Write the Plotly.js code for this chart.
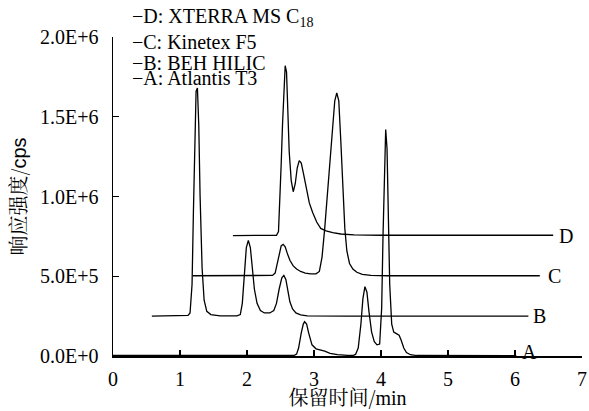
<!DOCTYPE html>
<html>
<head>
<meta charset="utf-8">
<script src="https://cdn.plot.ly/plotly-3.0.1.min.js"></script>
<style>html,body{margin:0;padding:0;background:#fff;}#chart{width:589px;height:411px;}</style>
</head>
<body>
<div id="chart"></div>
<script>
// Retention time (min) and response (cps) for each column
const timeA = [0, 1.0, 2.0, 2.70, 2.74, 2.77, 2.81, 2.84, 2.86, 2.89, 2.92, 2.97, 3.03, 3.09, 3.16, 3.24, 3.35, 3.50, 3.58, 3.62, 3.66, 3.70, 3.73, 3.76, 3.79, 3.82, 3.86, 3.90, 3.94, 3.98, 4.01, 4.03, 4.05, 4.07, 4.09, 4.11, 4.13, 4.16, 4.19, 4.23, 4.27, 4.30, 4.34, 4.38, 4.44, 4.53, 5.0, 6.02];
const signalA = [0.004e6, 0.003e6, 0.003e6, 0.003e6, 0.012e6, 0.05e6, 0.145e6, 0.20e6, 0.215e6, 0.20e6, 0.145e6, 0.07e6, 0.045e6, 0.04e6, 0.03e6, 0.017e6, 0.008e6, 0.004e6, 0.003e6, 0.01e6, 0.05e6, 0.20e6, 0.36e6, 0.435e6, 0.40e6, 0.28e6, 0.15e6, 0.09e6, 0.07e6, 0.075e6, 0.30e6, 0.75e6, 1.20e6, 1.42e6, 1.30e6, 0.85e6, 0.45e6, 0.20e6, 0.15e6, 0.14e6, 0.13e6, 0.10e6, 0.05e6, 0.022e6, 0.008e6, 0.003e6, 0.002e6, 0.002e6];

const timeB = [0.58, 1.0, 1.12, 1.15, 1.18, 1.20, 1.22, 1.24, 1.26, 1.28, 1.30, 1.33, 1.36, 1.40, 1.46, 1.60, 1.85, 1.90, 1.93, 1.96, 1.99, 2.02, 2.05, 2.08, 2.11, 2.15, 2.20, 2.26, 2.34, 2.40, 2.44, 2.48, 2.52, 2.55, 2.58, 2.61, 2.64, 2.68, 2.73, 2.80, 2.90, 3.5, 6.2];
const signalB = [0.25e6, 0.252e6, 0.255e6, 0.27e6, 0.45e6, 0.90e6, 1.40e6, 1.66e6, 1.68e6, 1.45e6, 1.00e6, 0.55e6, 0.35e6, 0.28e6, 0.26e6, 0.252e6, 0.252e6, 0.26e6, 0.33e6, 0.52e6, 0.68e6, 0.725e6, 0.68e6, 0.55e6, 0.42e6, 0.33e6, 0.285e6, 0.27e6, 0.27e6, 0.285e6, 0.33e6, 0.42e6, 0.49e6, 0.505e6, 0.48e6, 0.41e6, 0.34e6, 0.295e6, 0.27e6, 0.258e6, 0.252e6, 0.25e6, 0.25e6];

const timeC = [1.19, 2.0, 2.38, 2.42, 2.45, 2.48, 2.51, 2.54, 2.57, 2.60, 2.64, 2.69, 2.74, 2.80, 2.87, 2.95, 3.03, 3.08, 3.12, 3.16, 3.20, 3.24, 3.28, 3.31, 3.34, 3.37, 3.40, 3.43, 3.46, 3.49, 3.53, 3.58, 3.64, 3.72, 3.85, 4.1, 6.37];
const signalC = [0.503e6, 0.503e6, 0.505e6, 0.52e6, 0.58e6, 0.65e6, 0.69e6, 0.70e6, 0.685e6, 0.645e6, 0.60e6, 0.565e6, 0.545e6, 0.53e6, 0.52e6, 0.515e6, 0.515e6, 0.53e6, 0.62e6, 0.80e6, 1.00e6, 1.22e6, 1.45e6, 1.60e6, 1.65e6, 1.60e6, 1.35e6, 1.05e6, 0.80e6, 0.66e6, 0.58e6, 0.545e6, 0.525e6, 0.512e6, 0.506e6, 0.503e6, 0.503e6];

const timeD = [1.79, 2.3, 2.44, 2.47, 2.49, 2.51, 2.53, 2.55, 2.57, 2.59, 2.61, 2.63, 2.66, 2.69, 2.72, 2.75, 2.78, 2.81, 2.84, 2.88, 2.93, 2.98, 3.04, 3.10, 3.18, 3.28, 3.40, 3.60, 4.0, 6.57];
const signalD = [0.755e6, 0.755e6, 0.757e6, 0.78e6, 0.95e6, 1.20e6, 1.45e6, 1.68e6, 1.82e6, 1.78e6, 1.52e6, 1.28e6, 1.10e6, 1.03e6, 1.08e6, 1.18e6, 1.225e6, 1.21e6, 1.15e6, 1.07e6, 0.96e6, 0.90e6, 0.84e6, 0.80e6, 0.785e6, 0.773e6, 0.765e6, 0.76e6, 0.757e6, 0.757e6];

const seriesNames = ["D: XTERRA MS C<sub>18</sub>", "C: Kinetex F5", "B: BEH HILIC", "A: Atlantis T3"];
const curveLetters = ["D", "C", "B", "A"];
const xTicks = [0, 1, 2, 3, 4, 5, 6, 7];
const yTicks = [0, 0.5e6, 1.0e6, 1.5e6, 2.0e6];
const yTickText = ["0.0E+0", "5.0E+5", "1.0E+6", "1.5E+6", "2.0E+6"];

const lineStyle = {color: "#000", width: 1.3};
const series = [[timeA, signalA], [timeB, signalB], [timeC, signalC], [timeD, signalD]];
const traces = series.map(s => ({x: s[0], y: s[1], type: "scatter", mode: "lines", line: lineStyle, showlegend: false, hoverinfo: "skip"}));

// curve end labels
const labelPos = [[6.62, 0.755e6], [6.46, 0.50e6], [6.24, 0.25e6], [6.07, 0.027e6]];
const annotations = [];
curveLetters.forEach((t, i) => annotations.push({text: t, x: labelPos[i][0], y: labelPos[i][1], xref: "x", yref: "y", xanchor: "left", yanchor: "middle", showarrow: false}));
// legend as text lines
const legendY = [1.0596, 0.984, 0.9185, 0.871];
seriesNames.forEach((t, i) => annotations.push({text: "\u2212" + t, x: 0.0362, y: legendY[i], xref: "paper", yref: "paper", xanchor: "left", yanchor: "middle", showarrow: false}));

const axisCommon = {showline: true, linecolor: "#000", linewidth: 1.5, ticks: "inside", ticklen: 6, tickwidth: 1.2, tickcolor: "#000", showgrid: false, zeroline: false, fixedrange: true};

const layout = {
  width: 589, height: 411,
  margin: {l: 113, r: 7, t: 37, b: 55, pad: 0},
  paper_bgcolor: "#fff", plot_bgcolor: "#fff",
  showlegend: false,
  font: {family: "Liberation Serif", size: 20, color: "#000"},
  xaxis: Object.assign({}, axisCommon, {range: [0, 7], tickvals: xTicks, ticktext: xTicks.map(String), ticklabelstandoff: 4,
    title: {text: "保留时间/<span style='font-family:Liberation Serif'>min</span>", font: {family: "Noto Serif CJK SC", size: 20}, standoff: 3}}),
  yaxis: Object.assign({}, axisCommon, {range: [0, 2.0e6], tickvals: yTicks, ticktext: yTickText, ticklabelstandoff: 9,
    title: {text: "响应强度/<span style='font-family:Liberation Sans'>cps</span>", font: {family: "Noto Serif CJK SC", size: 20}, standoff: 8}}),
  annotations: annotations
};

function draw() { Plotly.newPlot("chart", traces, layout, {displayModeBar: false, staticPlot: true}); }
draw();
if (document.fonts && document.fonts.load) {
  Promise.all([document.fonts.load('20px "Liberation Serif"'), document.fonts.load('20px "Noto Serif CJK SC"')]).then(draw, function () {});
}
</script>
</body>
</html>
